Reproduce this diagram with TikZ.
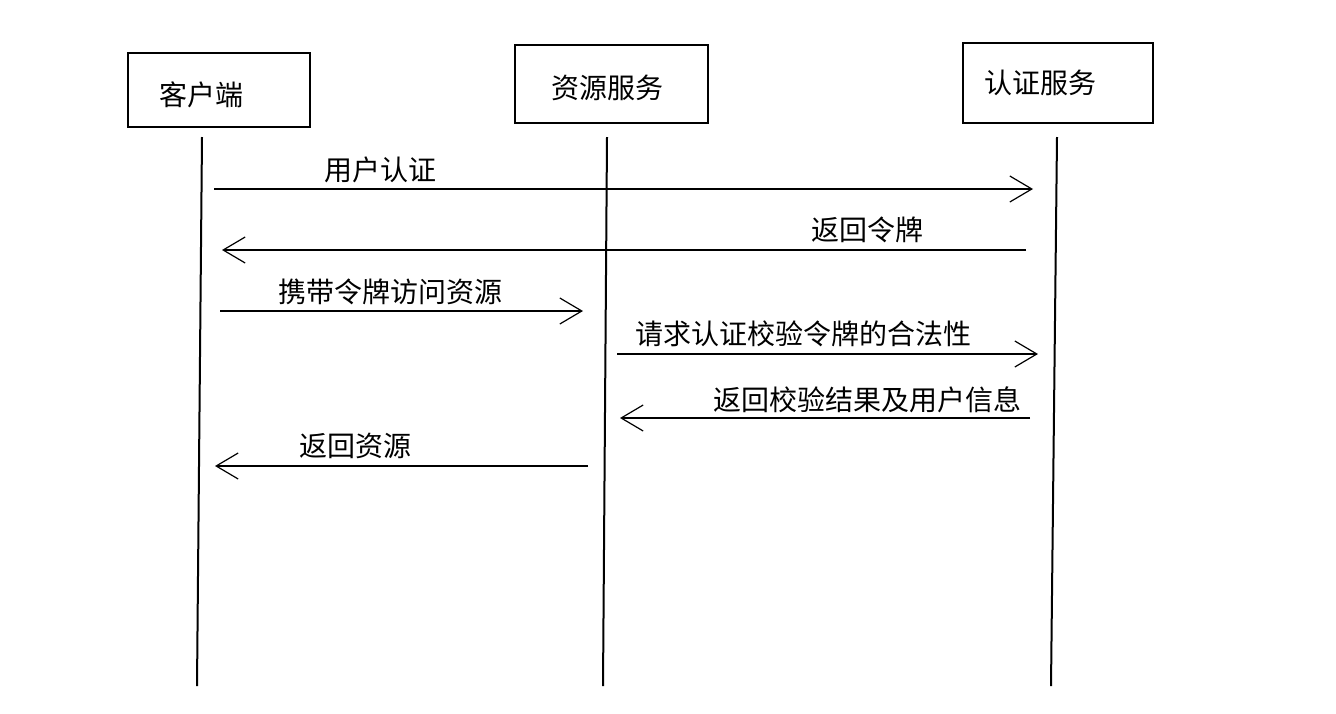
\documentclass[tikz,border=0pt]{standalone}
\usepackage{fontspec}
\setmainfont{Noto Sans CJK SC}
\usetikzlibrary{arrows.meta}

\begin{document}
\begin{tikzpicture}[
  x=1pt, y=-1pt,
  every node/.style={font=\fontsize{28}{30}\selectfont},
  actor/.style={draw, line width=2pt, align=left, inner ysep=2pt},
  life/.style={line width=2pt},
  msg/.style={line width=2pt,
    -{Straight Barb[length=22pt,width=26pt,line width=1.2pt]}}
]
\useasboundingbox (0,0) rectangle (1336,713);

% 参与者
\node[actor, minimum width=182pt, minimum height=74pt,
  inner xsep=31pt, text width=120pt,
  text height=34.6pt, text depth=3.4pt] (cli) at (219,90) {客户端};
\node[actor, minimum width=193pt, minimum height=78pt,
  inner xsep=36pt, text width=121pt,
  text height=32.6pt, text depth=3.4pt] (res) at (611.5,84) {资源服务};
\node[actor, minimum width=190pt, minimum height=80pt,
  inner xsep=21pt, text width=148pt] (auth) at (1058,83) {认证服务};

% 生命线
\coordinate (cliTop) at (202,137);
\coordinate (cliBot) at (197,686);
\coordinate (resTop) at (607,137);
\coordinate (resBot) at (603,686);
\coordinate (authTop) at (1057,137);
\coordinate (authBot) at (1051,686);
\draw[life] (cliTop) -- (cliBot);
\draw[life] (resTop) -- (resBot);
\draw[life] (authTop) -- (authBot);

% 消息端点
\coordinate (u1) at (214,189);  \coordinate (u2) at (1033,189);
\coordinate (t1) at (1026,250); \coordinate (t2) at (222,250);
\coordinate (c1) at (220,311);  \coordinate (c2) at (583,311);
\coordinate (q1) at (617,354);  \coordinate (q2) at (1038,354);
\coordinate (v1) at (1030,418); \coordinate (v2) at (620,418);
\coordinate (r1) at (588,466);  \coordinate (r2) at (215,466);

% 消息
\draw[msg] (u1) -- (u2);
\node (m1) at (380,170) {用户认证};

\draw[msg] (t1) -- (t2);
\node (m2) at (867,230) {返回令牌};

\draw[msg] (c1) -- (c2);
\node (m3) at (390,292) {携带令牌访问资源};

\draw[msg] (q1) -- (q2);
\node (m4) at (803,334) {请求认证校验令牌的合法性};

\draw[msg] (v1) -- (v2);
\node (m5) at (867,400) {返回校验结果及用户信息};

\draw[msg] (r1) -- (r2);
\node (m6) at (355,446) {返回资源};

\end{tikzpicture}
\end{document}
